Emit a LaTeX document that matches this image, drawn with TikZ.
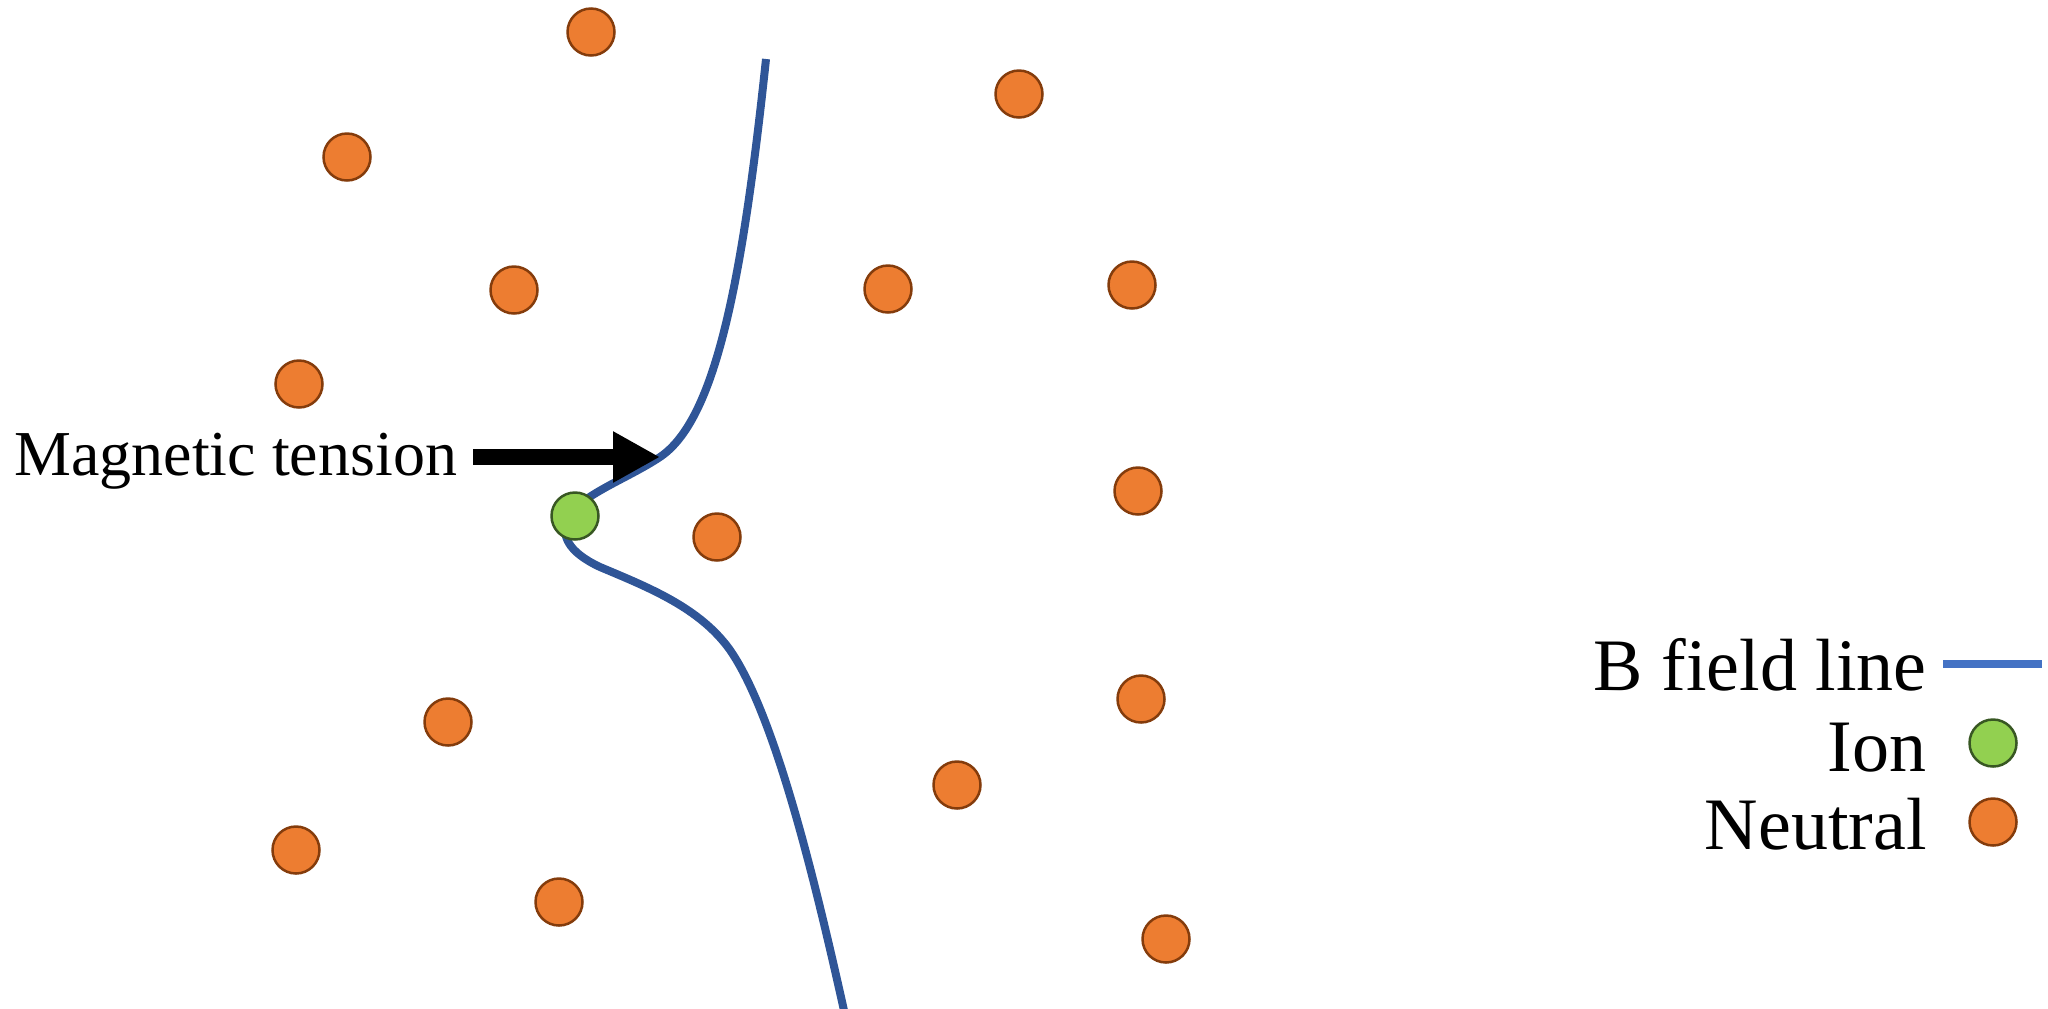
\documentclass[tikz,border=0pt]{standalone}
\usepackage{fontspec}
\setmainfont{Liberation Serif}
\usetikzlibrary{arrows.meta}

\definecolor{fieldblue}{HTML}{2F5597}
\definecolor{legendblue}{HTML}{4472C4}
\definecolor{neutralfill}{HTML}{ED7D31}
\definecolor{neutraldraw}{HTML}{843C0C}
\definecolor{ionfill}{HTML}{92D050}
\definecolor{iondraw}{HTML}{385723}

\tikzset{
  particle/.style={circle, inner sep=0pt, minimum size=23.5pt, line width=1.25pt},
  neutral/.style={particle, fill=neutralfill, draw=neutraldraw},
  ion/.style={particle, fill=ionfill, draw=iondraw},
  fieldline/.style={draw=fieldblue, line width=4pt},
  legendline/.style={draw=legendblue, line width=3.8pt},
  tensionarrow/.style={line width=7.8pt, -{Triangle[length=23.5pt, width=24pt]}},
  bigtext/.style={font=\fontsize{32pt}{38pt}\selectfont, inner sep=0pt},
  legendtext/.style={font=\fontsize{37pt}{43pt}\selectfont, inner sep=0pt, anchor=base east}
}

\begin{document}
\begin{tikzpicture}[x=0.5pt, y=-0.5pt]
\useasboundingbox (0,0) rectangle (2048,1008);

% bent field line, drawn first so the ion sits on top of it
\coordinate (ftop) at (766,59);
\coordinate (fbend) at (660,457);
\coordinate (fdip) at (568,518);
\coordinate (fout) at (600,567);
\coordinate (fknee) at (730,650);
\coordinate (fbot) at (845,1015);
\draw[fieldline] (ftop)
  .. controls (742,285) and (715,420) .. (fbend)
  .. controls (627,479) and (580,495) .. (fdip)
  .. controls (560,535) and (568,552) .. (fout)
  .. controls (650,588) and (700,608) .. (fknee)
  .. controls (775,715) and (815,880) .. (fbot);

% neutral particles
\node[neutral] (n1)  at (591,32)  {};
\node[neutral] (n2)  at (347,157) {};
\node[neutral] (n3)  at (514,290) {};
\node[neutral] (n4)  at (299,384) {};
\node[neutral] (n5)  at (1019,94) {};
\node[neutral] (n6)  at (888,289) {};
\node[neutral] (n7)  at (1132,285) {};
\node[neutral] (n8)  at (1138,491) {};
\node[neutral] (n9)  at (717,537) {};
\node[neutral] (n10) at (448,722) {};
\node[neutral] (n11) at (296,850) {};
\node[neutral] (n12) at (559,902) {};
\node[neutral] (n13) at (1141,699) {};
\node[neutral] (n14) at (957,785) {};
\node[neutral] (n15) at (1166,939) {};

% the ion pinned on the field line
\node[ion] (ion) at (575,516) {};

% magnetic tension label and arrow
\node[bigtext, anchor=base west] (mt) at (14,475) {Magnetic tension};
\coordinate (mttail) at (473,457);
\coordinate (mttip) at (660,457);
\draw[tensionarrow] (mttail) -- (mttip);

% legend
\node[legendtext] (lgB) at (1927,690) {B field line};
\node[legendtext] (lgI) at (1927,771) {Ion};
\node[legendtext] (lgN) at (1927,849) {Neutral};
\coordinate (lgl1) at (1943,664);
\coordinate (lgl2) at (2042,664);
\draw[legendline] (lgl1) -- (lgl2);
\node[ion] (lgion) at (1993,743) {};
\node[neutral] (lgneutral) at (1993,822) {};
\end{tikzpicture}
\end{document}
